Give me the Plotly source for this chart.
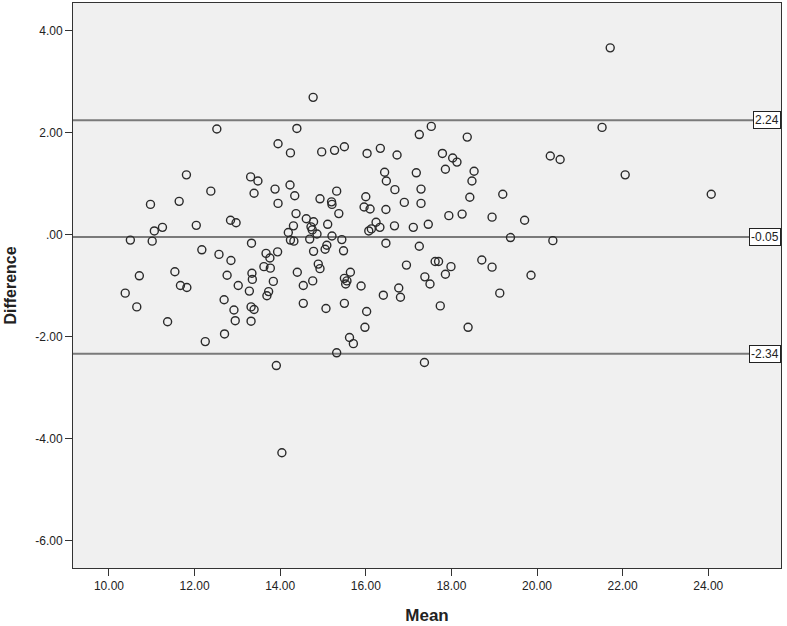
import plotly.graph_objects as go

# Bland-Altman data (mean of two measurements, difference)
mean_vals = [
    12.52, 13.95, 14.24, 11.81, 13.31, 13.48,
    14.77, 14.39, 17.53, 17.25, 18.37, 14.97, 15.27, 15.50, 16.03, 16.34, 16.73,
    17.79, 18.03, 18.13, 17.86, 18.53, 16.44, 17.18, 16.48, 18.48,
    21.71, 21.52, 20.31, 20.54, 22.06,
    19.20, 18.95, 19.71, 19.38, 20.37, 18.71, 18.95, 19.86, 19.13, 24.07,
    14.23, 13.88, 14.34, 12.38, 13.39, 13.95, 10.97, 11.64, 14.37, 14.31, 14.19,
    14.24, 14.32, 12.84, 12.97, 12.04, 11.25, 11.06, 10.50, 11.01, 13.33, 12.17,
    13.67, 13.94, 13.76, 12.57, 12.85, 13.62, 13.77, 11.54, 12.76, 13.34, 13.35,
    14.40, 10.71, 13.84, 13.02, 11.67, 11.82, 14.54, 10.38, 13.28, 13.73, 13.69,
    12.69, 14.54, 10.65, 12.92, 13.32, 13.39, 11.37, 12.95, 13.32,
    12.70, 12.25, 13.91, 14.04,
    14.93, 15.32, 15.20, 15.21, 15.37, 16.00, 15.96, 16.10, 16.68, 17.29, 17.29,
    16.90, 16.47, 18.43, 17.94, 18.25, 14.61, 14.78, 15.11, 14.72, 14.75, 14.86,
    14.69, 15.21, 15.44, 16.24, 16.33, 16.13, 16.07, 16.67, 17.11, 17.46, 16.47,
    17.25, 15.09, 15.05, 14.78, 15.48, 14.89, 14.93, 14.76, 15.64, 15.50, 15.56,
    15.53, 15.89, 16.95, 17.62, 17.70, 17.99, 17.86, 17.38, 17.50, 16.77, 16.81,
    16.41, 15.07, 15.50, 16.02, 17.74,
    15.98, 18.39, 15.62, 15.71, 15.32, 17.37,
]
diff_vals = [
    2.07, 1.78, 1.60, 1.17, 1.13, 1.05,
    2.69, 2.08, 2.12, 1.96, 1.91, 1.62, 1.65, 1.72, 1.59, 1.69, 1.56,
    1.59, 1.50, 1.42, 1.28, 1.24, 1.22, 1.21, 1.05, 1.05,
    3.66, 2.10, 1.54, 1.47, 1.17,
    0.79, 0.34, 0.28, -0.06, -0.12, -0.50, -0.64, -0.80, -1.15, 0.79,
    0.97, 0.89, 0.76, 0.85, 0.81, 0.61, 0.59, 0.65, 0.41, 0.17, 0.04,
    -0.11, -0.13, 0.28, 0.23, 0.18, 0.14, 0.07, -0.11, -0.13, -0.17, -0.30,
    -0.37, -0.34, -0.46, -0.39, -0.51, -0.63, -0.66, -0.73, -0.80, -0.76, -0.88,
    -0.74, -0.81, -0.92, -1.00, -1.00, -1.04, -1.00, -1.15, -1.11, -1.12, -1.20,
    -1.28, -1.35, -1.42, -1.48, -1.42, -1.47, -1.71, -1.69, -1.70,
    -1.95, -2.10, -2.57, -4.28,
    0.70, 0.85, 0.64, 0.59, 0.41, 0.74, 0.54, 0.50, 0.88, 0.89, 0.61,
    0.63, 0.49, 0.73, 0.37, 0.40, 0.31, 0.25, 0.20, 0.15, 0.09, 0.01,
    -0.09, -0.03, -0.10, 0.24, 0.14, 0.11, 0.07, 0.17, 0.14, 0.20, -0.17,
    -0.23, -0.21, -0.29, -0.33, -0.32, -0.58, -0.67, -0.91, -0.74, -0.86, -0.91,
    -0.97, -1.01, -0.60, -0.53, -0.53, -0.63, -0.78, -0.83, -0.97, -1.05, -1.23,
    -1.19, -1.45, -1.35, -1.51, -1.40,
    -1.82, -1.82, -2.02, -2.14, -2.32, -2.51,
]

ref_lines = [2.24, -0.05, -2.34]  # upper limit, mean difference, lower limit
x_ticks = [10, 12, 14, 16, 18, 20, 22, 24]
x_tick_labels = ["10.00", "12.00", "14.00", "16.00", "18.00", "20.00", "22.00", "24.00"]
y_ticks = [4, 2, 0, -2, -4, -6]
y_tick_labels = ["4.00", "2.00", ".00", "-2.00", "-4.00", "-6.00"]

fig = go.Figure()

for v in ref_lines:
    fig.add_shape(type="line", xref="paper", x0=0, x1=1, yref="y", y0=v, y1=v,
                  line=dict(color="#7a7a7a", width=2), layer="below")
    fig.add_annotation(xref="paper", x=1, xanchor="right", yref="y", y=v,
                       text=f"{v:.2f}", showarrow=False,
                       font=dict(family="Liberation Sans, Arial", size=12, color="#222"),
                       bgcolor="white", bordercolor="#222", borderwidth=1, borderpad=1)

fig.add_trace(go.Scatter(
    x=mean_vals, y=diff_vals, mode="markers",
    marker=dict(symbol="circle-open", size=8, color="#2a2a2a", line=dict(width=1.4)),
    showlegend=False, hoverinfo="x+y",
))

fig.update_layout(
    width=787, height=626,
    margin=dict(l=73, r=6, t=3, b=58),
    paper_bgcolor="white",
    plot_bgcolor="#f0f0f0",
    font=dict(family="Liberation Sans, Arial", color="#222"),
    xaxis=dict(
        range=[9.16, 25.70], tickvals=x_ticks, ticktext=x_tick_labels,
        ticks="outside", ticklen=7, tickcolor="#333", tickwidth=1,
        showgrid=False, zeroline=False, showline=True, mirror=True,
        linecolor="#333", linewidth=1, automargin=False,
        tickfont=dict(family="Liberation Sans Narrow, Liberation Sans", size=12, color="#222"),
        title=dict(text="<b>Mean</b>", standoff=16,
                   font=dict(family="Liberation Sans Narrow, Liberation Sans", size=17, color="#222")),
    ),
    yaxis=dict(
        range=[-6.54, 4.54], tickvals=y_ticks, ticktext=y_tick_labels,
        ticks="outside", ticklen=7, tickcolor="#333", tickwidth=1,
        showgrid=False, zeroline=False, showline=True, mirror=True,
        linecolor="#333", linewidth=1, automargin=False,
        tickfont=dict(family="Liberation Sans, Arial", size=12, color="#222"),
        title=dict(text="<b>Difference</b>", standoff=14,
                   font=dict(family="Liberation Sans, Arial", size=16, color="#222")),
    ),
)

fig.write_html("out.html", config={"displayModeBar": False},
               post_script="document.body.style.margin='0';document.body.style.overflow='hidden';")
